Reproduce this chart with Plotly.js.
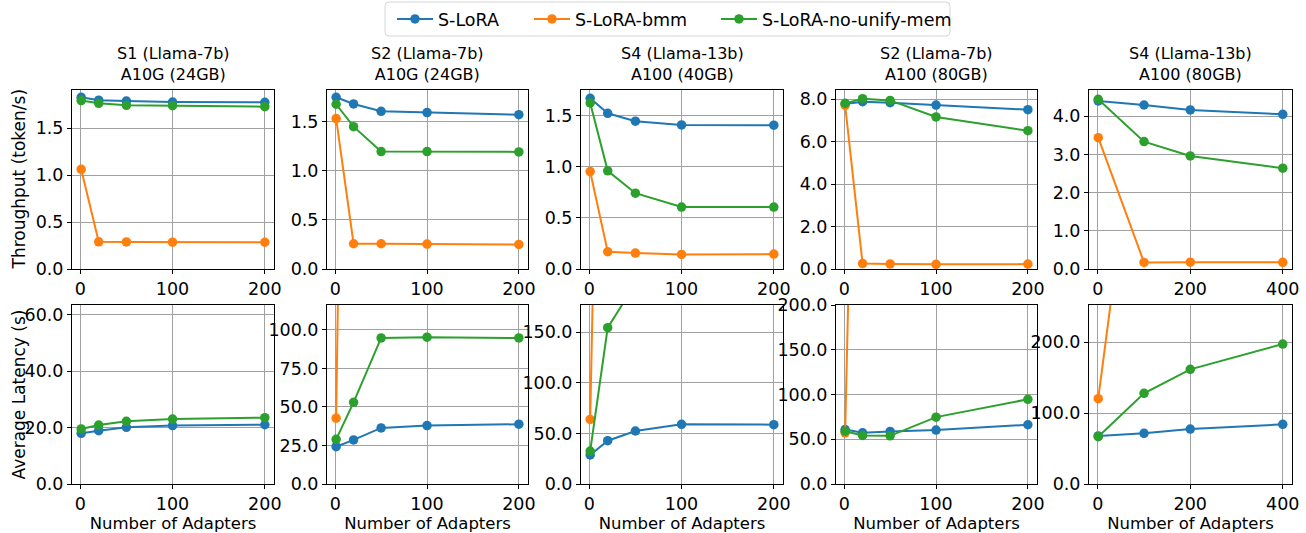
<!DOCTYPE html>
<html>
<head>
<meta charset="utf-8">
<script src="https://cdn.plot.ly/plotly-3.0.1.min.js"></script>
<style>html,body{margin:0;padding:0;background:#fff;}#chart{width:1306px;height:533px;}</style>
</head>
<body>
<div id="chart"></div>
<script>
// ---- Data ----
const seriesNames = ["S-LoRA", "S-LoRA-bmm", "S-LoRA-no-unify-mem"];
const seriesColors = ["#1f77b4", "#ff7f0e", "#2ca02c"];
const panelTitles = ["S1 (Llama-7b)<br>A10G (24GB)", "S2 (Llama-7b)<br>A10G (24GB)", "S4 (Llama-13b)<br>A100 (40GB)", "S2 (Llama-7b)<br>A100 (80GB)", "S4 (Llama-13b)<br>A100 (80GB)"];
const rowTitles = ["Throughput (token/s)", "Average Latency (s)"];
const xTitle = "Number of Adapters";
const adaptersSmall = [1, 20, 50, 100, 200];
const adaptersLarge = [1, 100, 200, 400];

// Throughput (token/s)
const thr1_slora = [1.83, 1.80, 1.79, 1.78, 1.777];
const thr1_bmm   = [1.063, 0.29, 0.288, 0.286, 0.285];
const thr1_nounify = [1.795, 1.766, 1.745, 1.741, 1.730];
const thr2_slora = [1.748, 1.68, 1.605, 1.592, 1.571];
const thr2_bmm   = [1.531, 0.257, 0.257, 0.254, 0.25];
const thr2_nounify = [1.677, 1.449, 1.195, 1.195, 1.192];
const thr3_slora = [1.673, 1.526, 1.448, 1.412, 1.409];
const thr3_bmm   = [0.955, 0.169, 0.156, 0.143, 0.146];
const thr3_nounify = [1.627, 0.962, 0.743, 0.607, 0.607];
const thr4_slora = [7.78, 7.89, 7.84, 7.73, 7.51];
const thr4_bmm   = [7.72, 0.255, 0.24, 0.22, 0.23];
const thr4_nounify = [7.81, 8.03, 7.95, 7.17, 6.52];
const thr5_slora = [4.40, 4.295, 4.165, 4.05];
const thr5_bmm   = [3.44, 0.173, 0.18, 0.175];
const thr5_nounify = [4.445, 3.336, 2.962, 2.64];

// Average latency (s)
const lat1_slora = [17.96, 18.9, 20.1, 20.7, 21.0];
const lat1_bmm   = [75, 600, 650, 700, 750];
const lat1_nounify = [19.5, 20.9, 22.2, 23.0, 23.5];
const lat2_slora = [24.2, 28.6, 36.4, 37.9, 38.8];
const lat2_bmm   = [42.7, 800, 820, 840, 860];
const lat2_nounify = [29.0, 53.0, 94.8, 95.3, 94.8];
const lat3_slora = [28.7, 42.8, 52.4, 59.0, 58.7];
const lat3_bmm   = [63.9, 900, 950, 1000, 1050];
const lat3_nounify = [32.6, 154.6, 198, 260, 300];
const lat4_slora = [60.9, 57.2, 58.7, 60.2, 66.2];
const lat4_bmm   = [57.2, 900, 950, 1000, 1050];
const lat4_nounify = [59.0, 54.2, 53.8, 74.7, 94.6];
const lat5_slora = [67.8, 71.5, 77.6, 84.2];
const lat5_bmm   = [120.5, 615, 700, 800];
const lat5_nounify = [66.8, 128, 161.9, 197.6];

// Axis ticks / ranges
const xTicksSmall = [0, 100, 200];
const xTicksLarge = [0, 200, 400];
const thrTicks = [[0, 0.5, 1.0, 1.5], [0, 0.5, 1.0, 1.5], [0, 0.5, 1.0, 1.5], [0, 2, 4, 6, 8], [0, 1, 2, 3, 4]];
const thrMax = [1.908, 1.822, 1.754, 8.44, 4.688];
const latTicks = [[0, 20, 40, 60], [0, 25, 50, 75, 100], [0, 50, 100, 150], [0, 50, 100, 150, 200], [0, 100, 200]];
const latMax = [63.43, 116.2, 177, 200, 252.7];

// ---- Build ----
const thrData = [
  [thr1_slora, thr1_bmm, thr1_nounify],
  [thr2_slora, thr2_bmm, thr2_nounify],
  [thr3_slora, thr3_bmm, thr3_nounify],
  [thr4_slora, thr4_bmm, thr4_nounify],
  [thr5_slora, thr5_bmm, thr5_nounify]
];
const latData = [
  [lat1_slora, lat1_bmm, lat1_nounify],
  [lat2_slora, lat2_bmm, lat2_nounify],
  [lat3_slora, lat3_bmm, lat3_nounify],
  [lat4_slora, lat4_bmm, lat4_nounify],
  [lat5_slora, lat5_bmm, lat5_nounify]
];
const xsFor = [adaptersSmall, adaptersSmall, adaptersSmall, adaptersSmall, adaptersLarge];
const xTicksFor = [xTicksSmall, xTicksSmall, xTicksSmall, xTicksSmall, xTicksLarge];

const W = 1306, H = 533;
const colPx = [[72, 274], [327, 528], [581, 783], [836, 1037], [1089, 1292]];
const topRowPx = [90, 269], botRowPx = [305, 484];
const font = "DejaVu Sans, sans-serif";

// legend entries positioned individually (px)
const legendNames = ["legend", "legend2", "legend3"];
const legendXPx = [392, 529, 716];
const legendBox = {x0: 385, x1: 950, y0: 2, y1: 36, r: 4};

const traces = [];
const layout = {
  width: W, height: H,
  margin: {l: 0, r: 0, t: 0, b: 0},
  paper_bgcolor: "#fff", plot_bgcolor: "#fff",
  font: {family: font, size: 16, color: "#000"},
  showlegend: true,
  annotations: [],
  shapes: []
};
legendNames.forEach((ln, i) => {
  layout[ln] = {orientation: "h", x: legendXPx[i] / W, xanchor: "left",
    y: 1 - ((legendBox.y0 + legendBox.y1) / 2) / H, yanchor: "middle",
    borderwidth: 0, bgcolor: "rgba(0,0,0,0)",
    font: {family: font, size: 17.5, color: "#000"}, itemwidth: 36};
});
// rounded legend frame
(function () {
  const b = legendBox, px = v => v / W, py = v => 1 - v / H;
  const rx = b.r / W, ry = b.r / H;
  const path = `M ${px(b.x0) + rx},${py(b.y0)} L ${px(b.x1) - rx},${py(b.y0)} Q ${px(b.x1)},${py(b.y0)} ${px(b.x1)},${py(b.y0) - ry} ` +
    `L ${px(b.x1)},${py(b.y1) + ry} Q ${px(b.x1)},${py(b.y1)} ${px(b.x1) - rx},${py(b.y1)} ` +
    `L ${px(b.x0) + rx},${py(b.y1)} Q ${px(b.x0)},${py(b.y1)} ${px(b.x0)},${py(b.y1) + ry} ` +
    `L ${px(b.x0)},${py(b.y0) - ry} Q ${px(b.x0)},${py(b.y0)} ${px(b.x0) + rx},${py(b.y0)} Z`;
  layout.shapes.push({type: "path", xref: "paper", yref: "paper", path: path,
    line: {color: "#d6d6d6", width: 1}, fillcolor: "rgba(255,255,255,0.8)", layer: "below"});
})();

function axisBase(domain) {
  return {
    domain: domain, showline: true, linecolor: "#000", linewidth: 1, mirror: true,
    ticks: "outside", ticklen: 4, tickwidth: 1, tickcolor: "#000",
    showgrid: true, gridcolor: "#a0a0a0", gridwidth: 1, zeroline: false,
    tickfont: {family: font, size: 17.5, color: "#000"}
  };
}

for (let c = 0; c < 5; c++) {
  const xd = [colPx[c][0] / W, colPx[c][1] / W];
  const xs = xsFor[c];
  const xmin = xs[0], xmax = xs[xs.length - 1];
  const pad = (xmax - xmin) * 0.05;
  const xr = [xmin - pad, xmax + pad];
  for (let r = 0; r < 2; r++) {
    const idx = r * 5 + c + 1;
    const xName = "xaxis" + (idx === 1 ? "" : idx);
    const yName = "yaxis" + (idx === 1 ? "" : idx);
    const xRef = "x" + (idx === 1 ? "" : idx);
    const yRef = "y" + (idx === 1 ? "" : idx);
    const rowPx = r === 0 ? topRowPx : botRowPx;
    const yd = [1 - rowPx[1] / H, 1 - rowPx[0] / H];
    const xa = axisBase(xd);
    xa.anchor = yRef; xa.range = xr; xa.tickvals = xTicksFor[c];
    xa.ticktext = xTicksFor[c].map(String);
    const ya = axisBase(yd);
    ya.anchor = xRef;
    ya.range = r === 0 ? [0, thrMax[c]] : [0, latMax[c]];
    ya.tickvals = r === 0 ? thrTicks[c] : latTicks[c];
    ya.tickformat = ".1f";
    if (r === 1) {
      xa.title = {text: xTitle, font: {family: font, size: 16.5, color: "#000"}, standoff: 0};
    }
    layout[xName] = xa;
    layout[yName] = ya;
    const data = r === 0 ? thrData[c] : latData[c];
    for (let s = 0; s < 3; s++) {
      traces.push({
        type: "scatter", mode: "lines+markers",
        x: xs, y: data[s], xaxis: xRef, yaxis: yRef,
        name: seriesNames[s], legendgroup: seriesNames[s],
        legend: legendNames[s],
        showlegend: idx === 1,
        line: {color: seriesColors[s], width: 2},
        marker: {color: seriesColors[s], size: 9.5},
        cliponaxis: true
      });
    }
    if (c === 0) {
      layout.annotations.push({
        text: rowTitles[r], xref: "paper", yref: "paper", textangle: -90,
        x: 18 / W, y: (yd[0] + yd[1]) / 2, xanchor: "center", yanchor: "middle",
        showarrow: false, font: {family: font, size: 17, color: "#000"}
      });
    }
  }
  layout.annotations.push({
    text: panelTitles[c], xref: "paper", yref: "paper",
    x: (xd[0] + xd[1]) / 2, y: 1 - topRowPx[0] / H, xanchor: "center", yanchor: "bottom",
    yshift: 4, showarrow: false, align: "center",
    font: {family: font, size: 16, color: "#000"}
  });
}

Plotly.newPlot("chart", traces, layout, {staticPlot: true, displayModeBar: false});
</script>
</body>
</html>
